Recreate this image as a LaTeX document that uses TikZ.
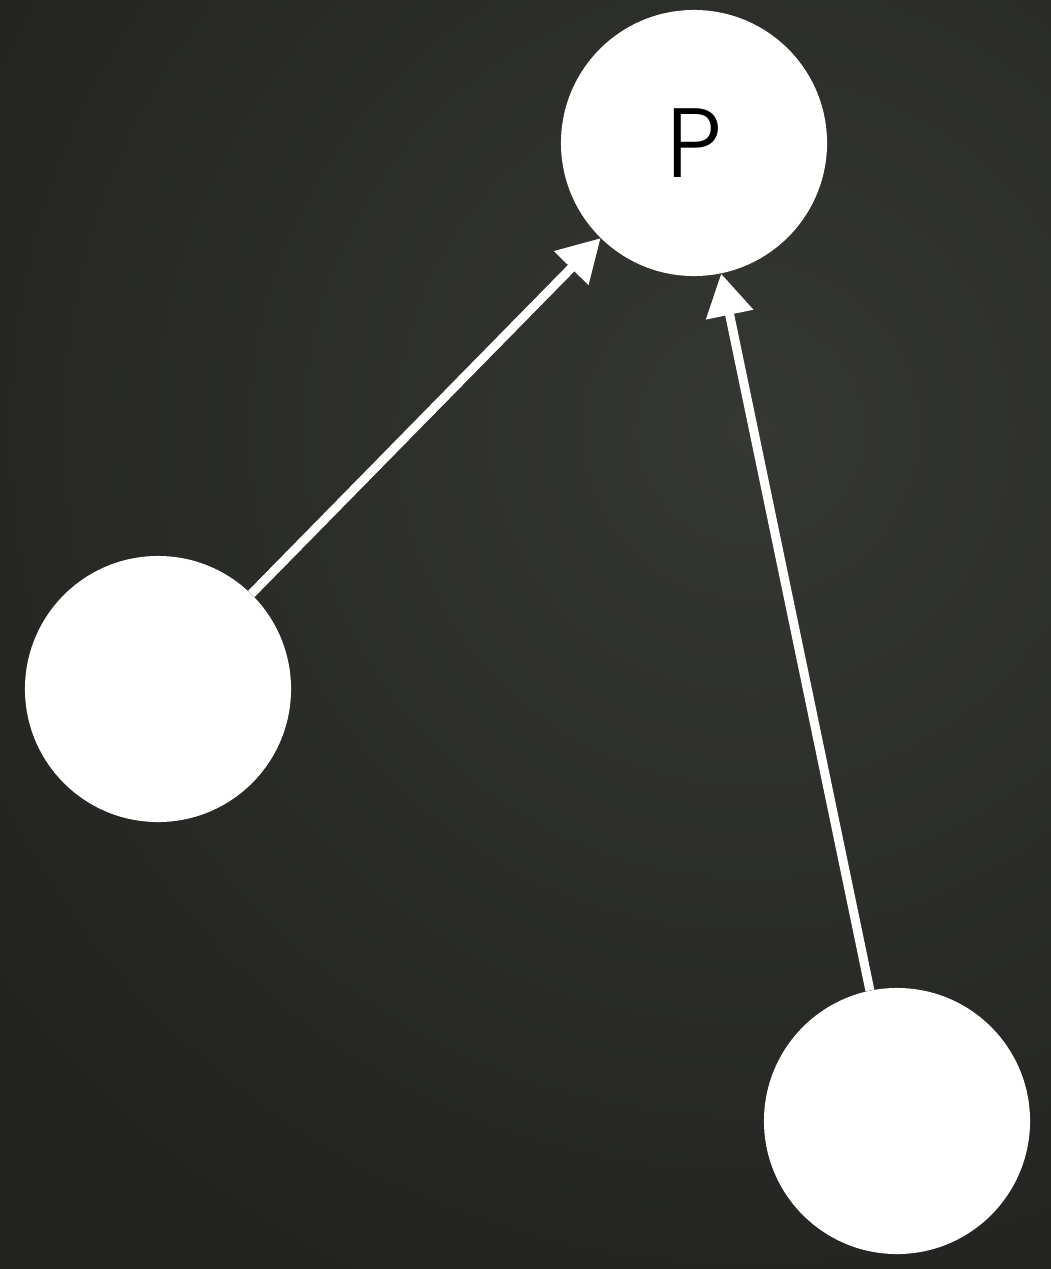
\documentclass[tikz,border=0pt]{standalone}
\usepackage{fontspec}
\newfontfamily\labelfont{Poppins}[UprightFont=* Light]
\usetikzlibrary{arrows.meta}

\definecolor{bgdark}{RGB}{34,35,32}
\definecolor{bglight}{RGB}{53,55,50}

\begin{document}
\begin{tikzpicture}[
    x=0.025cm, y=-0.025cm,
    ball/.style={circle, fill=white, minimum size=6.65cm, inner sep=0pt, font=\labelfont\fontsize{70}{70}\selectfont},
    link/.style={-{Triangle[length=1.05cm, width=1.15cm]}, line width=6.4pt, white}
]
% background
\useasboundingbox (0,0) rectangle (1051,1269);
\fill[bgdark] (0,0) rectangle (1051,1269);
\begin{scope}
  \clip (0,0) rectangle (1051,1269);
  \shade[inner color=bglight, outer color=bgdark] (750,430) circle (950);
\end{scope}

\node[ball] (p) at (694,143) {P};
\node[ball] (left) at (158,689) {};
\node[ball] (right) at (897,1121) {};

\draw[link] (left) -- (p);
\draw[link] (right) -- (p);
\end{tikzpicture}
\end{document}
